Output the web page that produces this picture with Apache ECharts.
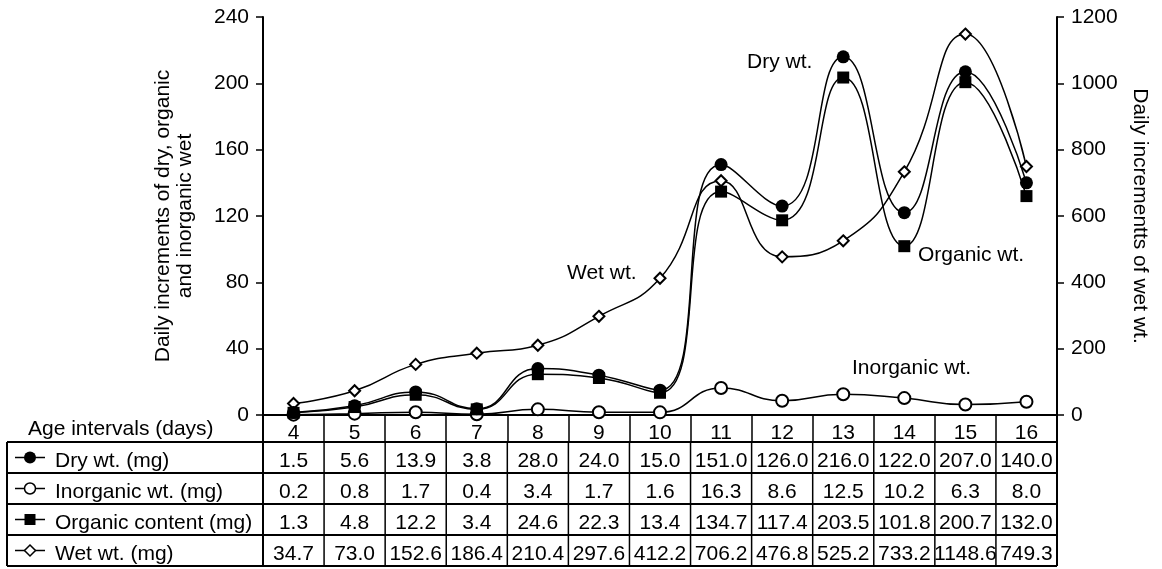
<!DOCTYPE html>
<html>
<head>
<meta charset="utf-8">
<script src="https://cdn.jsdelivr.net/npm/echarts@6/dist/echarts.min.js"></script>
<style>
html,body{margin:0;padding:0;background:#fff;}
#c{width:1162px;height:569px;}
</style>
</head>
<body>
<div id="c"></div>
<script>
const categories = ['4','5','6','7','8','9','10','11','12','13','14','15','16'];
const dryWt       = [1.5, 5.6, 13.9, 3.8, 28.0, 24.0, 15.0, 151.0, 126.0, 216.0, 122.0, 207.0, 140.0];
const inorganicWt = [0.2, 0.8, 1.7, 0.4, 3.4, 1.7, 1.6, 16.3, 8.6, 12.5, 10.2, 6.3, 8.0];
const organicWt   = [1.3, 4.8, 12.2, 3.4, 24.6, 22.3, 13.4, 134.7, 117.4, 203.5, 101.8, 200.7, 132.0];
const wetWt       = [34.7, 73.0, 152.6, 186.4, 210.4, 297.6, 412.2, 706.2, 476.8, 525.2, 733.2, 1148.6, 749.3];
const leftTicks  = {min: 0, max: 240, interval: 40};
const rightTicks = {min: 0, max: 1200, interval: 200};
const leftAxisName  = 'Daily increments of dry, organic\nand inorganic wet';
const rightAxisName = 'Daily incrementts of wet wt.';
const xAxisTitle = 'Age intervals (days)';
const tableLabels = ['Dry wt. (mg)', 'Inorganic wt. (mg)', 'Organic content (mg)', 'Wet wt. (mg)'];
const annotations = [
  {text: 'Dry wt.', x: 747, y: 62},
  {text: 'Wet wt.', x: 567, y: 273},
  {text: 'Organic wt.', x: 918, y: 255},
  {text: 'Inorganic wt.', x: 852, y: 368}
];

const FONT = '"Liberation Sans", Arial, Helvetica, sans-serif';
const FS = 21;
const chart = echarts.init(document.getElementById('c'), null, {renderer: 'canvas'});

const lineStyle = {color: '#000', width: 1.5};
function axisY(t, name, gap, rot) {
  return {
    type: 'value', min: t.min, max: t.max, interval: t.interval,
    name: name, nameLocation: 'middle', nameGap: gap, nameRotate: rot,
    nameTextStyle: {fontSize: FS, fontFamily: FONT, color: '#000', lineHeight: 22},
    axisLine: {show: true, lineStyle: {color: '#000', width: 2}},
    axisTick: {show: true, length: 7, lineStyle: {color: '#000', width: 1.5}},
    axisLabel: {fontSize: FS, fontFamily: FONT, color: '#000', margin: 14, formatter: v => String(v)},
    splitLine: {show: false}
  };
}

const option = {
  animation: false,
  backgroundColor: '#fff',
  grid: {left: 263, right: 105, top: 17, bottom: 154},
  xAxis: {
    type: 'category', data: categories, boundaryGap: true,
    axisLine: {show: true, lineStyle: {color: '#000', width: 2}},
    axisTick: {show: true, alignWithLabel: false, length: 27, lineStyle: {color: '#000', width: 1.5}},
    axisLabel: {fontSize: FS, fontFamily: FONT, color: '#000', margin: 8}
  },
  yAxis: [axisY(leftTicks, leftAxisName, 67, 90), axisY(rightTicks, rightAxisName, 68, -90)],
  series: [
    {name: 'Wet wt.', type: 'line', yAxisIndex: 1, data: wetWt, smooth: 0.5, symbol: 'emptyDiamond', symbolSize: 11,
     lineStyle: lineStyle, itemStyle: {color: '#000', borderColor: '#000', borderWidth: 1.5}, z: 2},
    {name: 'Inorganic wt.', type: 'line', data: inorganicWt, smooth: 0.5, symbol: 'emptyCircle', symbolSize: 12,
     lineStyle: lineStyle, itemStyle: {color: '#000', borderColor: '#000', borderWidth: 1.5}, z: 3},
    {name: 'Organic wt.', type: 'line', data: organicWt, smooth: 0.5, symbol: 'rect', symbolSize: 12,
     lineStyle: lineStyle, itemStyle: {color: '#000'}, z: 4},
    {name: 'Dry wt.', type: 'line', data: dryWt, smooth: 0.5, symbol: 'circle', symbolSize: 13,
     lineStyle: lineStyle, itemStyle: {color: '#000'}, z: 5}
  ]
};
chart.setOption(option);

// Build data table below the axis from the arrays, using the axis scales for column positions
function buildTable() {
  const g = [];
  const x0 = chart.convertToPixel({xAxisIndex: 0}, 0);
  const x1 = chart.convertToPixel({xAxisIndex: 0}, 1);
  const colW = x1 - x0;
  const plotLeft = x0 - colW / 2;
  const plotRight = plotLeft + colW * categories.length;
  const axisY0 = chart.convertToPixel({yAxisIndex: 0}, 0);
  const headBottom = axisY0 + 27;
  const rowH = 31;
  const tableLeft = 7;
  const nRows = tableLabels.length;
  const tableBottom = headBottom + rowH * nRows;
  const line = (xa, ya, xb, yb, w) => ({type: 'line', shape: {x1: xa, y1: ya, x2: xb, y2: yb},
    style: {stroke: '#000', lineWidth: w}, z: 10});
  const txt = (s, x, y, align) => ({type: 'text', x: x, y: y, z: 11,
    style: {text: s, fontSize: FS, fontFamily: FONT, fill: '#000', textAlign: align, textVerticalAlign: 'middle'}});

  for (let r = 0; r <= nRows; r++) {
    const y = headBottom + rowH * r;
    g.push(line(tableLeft, y, plotRight, y, 2));
  }
  g.push(line(tableLeft, headBottom, tableLeft, tableBottom, 2));
  g.push(line(plotLeft, axisY0, plotLeft, tableBottom, 2));
  g.push(line(plotRight, axisY0, plotRight, tableBottom, 2));
  for (let i = 1; i < categories.length; i++) {
    const x = plotLeft + colW * i;
    g.push(line(x, headBottom, x, tableBottom, 1.5));
  }
  g.push(txt(xAxisTitle, 28, axisY0 + 14, 'left'));
  const seriesVals = [dryWt, inorganicWt, organicWt, wetWt];
  for (let r = 0; r < nRows; r++) {
    const cy = headBottom + rowH * r + rowH / 2 + 4;
    const my = headBottom + rowH * r + rowH / 2;
    g.push(line(15, my, 45, my, 1.5));
    if (r === 0) g.push({type: 'circle', shape: {cx: 30, cy: my, r: 6}, style: {fill: '#000'}, z: 12});
    if (r === 1) g.push({type: 'circle', shape: {cx: 30, cy: my, r: 5.5}, style: {fill: '#fff', stroke: '#000', lineWidth: 1.5}, z: 12});
    if (r === 2) g.push({type: 'rect', shape: {x: 24.5, y: my - 5.5, width: 11, height: 11}, style: {fill: '#000'}, z: 12});
    if (r === 3) g.push({type: 'polygon', shape: {points: [[30, my - 5.5], [35.5, my], [30, my + 5.5], [24.5, my]]}, style: {fill: '#fff', stroke: '#000', lineWidth: 1.5}, z: 12});
    g.push(txt(tableLabels[r], 55, cy, 'left'));
    seriesVals[r].forEach((v, i) => {
      const cx = chart.convertToPixel({xAxisIndex: 0}, i);
      g.push(txt(v.toFixed(1), cx, cy, 'center'));
    });
  }
  annotations.forEach(a => g.push(txt(a.text, a.x, a.y, 'left')));
  chart.setOption({graphic: {elements: g}});
}
buildTable();
</script>
</body>
</html>
